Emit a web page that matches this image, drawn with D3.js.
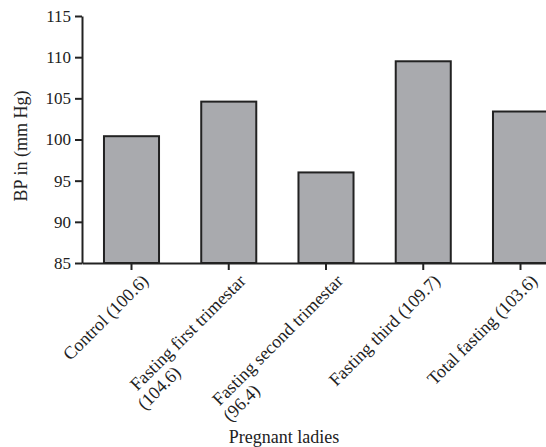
<!DOCTYPE html>
<html lang="en">
<head>
<meta charset="utf-8">
<script src="https://d3js.org/d3.v7.min.js"></script>
<style>
  body { margin:0; background:#fff; }
  svg { display:block; background:#fff; font-family:"Liberation Serif","DejaVu Serif",serif; }
</style>
<script>
  // chart data
  var categories = ["Control (100.6)", "Fasting first trimestar|(104.6)", "Fasting second trimestar|(96.4)", "Fasting third (109.7)", "Total fasting (103.6)"];
  var values = [100.4, 104.6, 96.0, 109.5, 103.4];
  var yTicks = [85, 90, 95, 100, 105, 110, 115];
  var yTitle = "BP in (mm Hg)";
  var xTitle = "Pregnant ladies";

  function draw(){
    var width = 546, height = 447;
    var tickFont = 17, labelFont = 18;
    var svg = d3.select("body").append("svg").attr("width", width).attr("height", height)
      .style("color", "#222");

    // scales
    var y = d3.scaleLinear().domain([85, 115]).range([263, 16]);
    var x = d3.scaleBand().domain(categories).range([82, 570])
      .paddingInner(0.434).paddingOuter(0.226);

    // bars
    svg.append("g").selectAll("rect")
      .data(values)
      .enter()
      .append("rect")
      .attr("x", function(d, i){ return x(categories[i]); })
      .attr("y", function(d){ return y(d); })
      .attr("width", x.bandwidth())
      .attr("height", function(d){ return y(85) - y(d); })
      .attr("fill", "#a9aaae")
      .attr("stroke", "#222")
      .attr("stroke-width", 2);

    // y axis
    var yAxis = svg.append("g")
      .attr("transform", "translate(82,0)")
      .call(d3.axisLeft(y).tickValues(yTicks).tickSize(7).tickPadding(4).tickSizeOuter(0));
    yAxis.attr("font-family", null).attr("font-size", tickFont);
    yAxis.selectAll("path,line").attr("stroke-width", 2);
    yAxis.selectAll("text").attr("fill", "#222");

    // x axis, labels rotated and some split on two lines
    var xAxis = svg.append("g")
      .attr("transform", "translate(0," + y(85) + ")")
      .call(d3.axisBottom(x).tickSize(7).tickSizeOuter(0).tickFormat(""));
    xAxis.attr("font-family", null).attr("font-size", labelFont);
    xAxis.selectAll("path,line").attr("stroke-width", 2);
    xAxis.selectAll(".tick text").remove();
    xAxis.selectAll(".tick").each(function(d){
      var lines = d.split("|");
      var g = d3.select(this).append("g").attr("transform", "translate(18,19) rotate(-45)");
      var t1 = g.append("text").attr("fill", "#222").attr("text-anchor", "end").text(lines[0]);
      if(lines.length > 1){
        // second line sits a bit in from the start of the first one
        var w = t1.node().getComputedTextLength();
        g.append("text").attr("fill", "#222").attr("x", -w + 18).attr("dy", "1.05em").text(lines[1]);
      }
    });

    // axis titles
    svg.append("text")
      .attr("transform", "translate(27,146) rotate(-90)")
      .attr("text-anchor", "middle")
      .attr("font-size", labelFont)
      .attr("fill", "#222")
      .text(yTitle);
    svg.append("text")
      .attr("x", 284).attr("y", 443)
      .attr("text-anchor", "middle")
      .attr("font-size", labelFont)
      .attr("fill", "#222")
      .text(xTitle);
  }
</script>
</head>
<body onload="draw()">
</body>
</html>
